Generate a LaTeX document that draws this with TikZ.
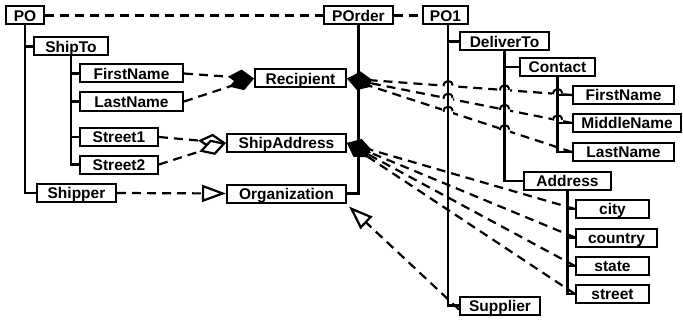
\documentclass[tikz,border=0pt]{standalone}
\usepackage{fontspec}
\setmainfont{Liberation Sans}
\usetikzlibrary{arrows.meta,calc}
\newcommand\erasehop[1]{\fill[white] ($(#1)+(-5.5,-3.2)$) rectangle ($(#1)+(5.5,3.2)$);}
\newcommand\drawhop[1]{\draw[line width=2pt] ($(#1)+(-4.5,0.3)$) .. controls +(0,-6.5) and +(0,-6.5) .. ($(#1)+(4.5,-0.3)$);}
\begin{document}
\begin{tikzpicture}[x=1pt,y=-1pt,
 box/.style={draw, line width=2pt, inner sep=0pt, minimum height=18pt, text height=11.3pt, text depth=0pt, font=\fontsize{15.5}{18}\selectfont\bfseries, anchor=center, fill=white},
 tree/.style={line width=2.2pt},
 dep/.style={line width=2.2pt, dash pattern=on 9pt off 6pt},
 comp/.style={dep, -{Diamond[length=26pt,width=16pt,fill=black,line join=miter]}},
 agg/.style={dep, -{Diamond[open,length=28pt,width=16pt,fill=white]}},
 gen/.style={dep, -{Triangle[open,length=24pt,width=17pt,fill=white]}}]
\useasboundingbox (0,0) rectangle (683,321);
% nodes
\node[box, minimum width=38pt] (PO) at (25,15.5) {PO};
\node[box, minimum width=69pt] (POrder) at (358.5,15.5) {POrder};
\node[box, minimum width=45pt] (PO1) at (445.5,15.5) {PO1};
\node[box, minimum width=74pt] (ShipTo) at (71,46.5) {ShipTo};
\node[box, minimum width=103pt] (FNL) at (131.5,73.5) {FirstName};
\node[box, minimum width=103pt] (LNL) at (131.5,101.5) {LastName};
\node[box, minimum width=91pt] (Recip) at (300.5,78.5) {Recipient};
\node[box, minimum width=78pt] (St1) at (119,137) {Street1};
\node[box, minimum width=78pt] (St2) at (119,164.5) {Street2};
\node[box, minimum width=119pt] (ShipAddr) at (286.5,143) {ShipAddress};
\node[box, minimum width=79pt] (Shipper) at (76.5,193) {Shipper};
\node[box, minimum width=119pt] (Org) at (286.5,193.5) {Organization};
\node[box, minimum width=89pt] (Deliver) at (504.5,41.5) {DeliverTo};
\node[box, minimum width=75pt] (Contact) at (557.5,67) {Contact};
\node[box, minimum width=101pt] (FNR) at (623.5,95) {FirstName};
\node[box, minimum width=108pt] (MNR) at (627,123) {MiddleName};
\node[box, minimum width=101pt] (LNR) at (623.5,152) {LastName};
\node[box, minimum width=87pt] (Addr) at (567.5,181) {Address};
\node[box, minimum width=73pt] (city) at (612.5,209) {city};
\node[box, minimum width=81pt] (country) at (616.5,237.5) {country};
\node[box, minimum width=73pt] (state) at (612.5,266) {state};
\node[box, minimum width=73pt] (street) at (612.5,294) {street};
\node[box, minimum width=80pt] (Supplier) at (500,305.5) {Supplier};
% vertical line helpers for hops
\coordinate (va1) at ([xshift=2.5pt]PO1.south);
\coordinate (va2) at ($(va1)+(0,280)$);
\coordinate (vb1) at (Deliver.south);
\coordinate (vb2) at ($(vb1)+(0,130)$);
\coordinate (vc1) at (Contact.south);
\coordinate (vc2) at ($(vc1)+(0,75)$);
% dashed relations
\draw[dep] (PO.east) -- (POrder.west);
\draw[dep] (POrder.east) -- (PO1.west);
\draw[comp] (FNL.east) -- (Recip.west);
\draw[comp] (LNL.east) -- (Recip.west);
\draw[agg] (St1.east) -- (ShipAddr.west);
\draw[agg] (St2.east) -- (ShipAddr.west);
\draw[gen] (Shipper.east) -- (Org.west);
\draw[gen] ([yshift=-4pt]Supplier.west) -- ([xshift=2pt,yshift=-3pt]Org.south east);
\draw[comp] (FNR.west) -- (Recip.east);
\draw[comp] (MNR.west) -- (Recip.east);
\draw[comp] (LNR.west) -- (Recip.east);
\draw[comp] (city.west) -- (ShipAddr.east);
\draw[comp] (country.west) -- (ShipAddr.east);
\draw[comp] (state.west) -- (ShipAddr.east);
\draw[comp] (street.west) -- (ShipAddr.east);
% crossing points
\coordinate (h1) at (intersection of FNR.west--Recip.east and va1--va2);
\coordinate (h2) at (intersection of FNR.west--Recip.east and vb1--vb2);
\coordinate (h3) at (intersection of FNR.west--Recip.east and vc1--vc2);
\coordinate (h4) at (intersection of MNR.west--Recip.east and va1--va2);
\coordinate (h5) at (intersection of MNR.west--Recip.east and vb1--vb2);
\coordinate (h6) at (intersection of MNR.west--Recip.east and vc1--vc2);
\coordinate (h7) at (intersection of LNR.west--Recip.east and va1--va2);
\coordinate (h8) at (intersection of LNR.west--Recip.east and vb1--vb2);
\erasehop{h1}\erasehop{h2}\erasehop{h3}\erasehop{h4}\erasehop{h5}\erasehop{h6}\erasehop{h7}\erasehop{h8}
% tree lines
\draw[tree] (PO.south) |- (Shipper.west);
\draw[tree] (PO.south) |- (ShipTo.west);
\draw[tree] (ShipTo.south) |- (St2.west);
\draw[tree] (ShipTo.south) |- (FNL.west);
\draw[tree] (ShipTo.south) |- (LNL.west);
\draw[tree] (ShipTo.south) |- (St1.west);
\draw[tree] (POrder.south) |- (Org.east);
\draw[tree] (va1) |- (Supplier.west);
\draw[tree] (va1) |- (Deliver.west);
\draw[tree] (Deliver.south) |- (Addr.west);
\draw[tree] (Deliver.south) |- (Contact.west);
\draw[tree] (Contact.south) |- (LNR.west);
\draw[tree] (Contact.south) |- (FNR.west);
\draw[tree] (Contact.south) |- (MNR.west);
\draw[tree] (Addr.south) |- (street.west);
\draw[tree] (Addr.south) |- (city.west);
\draw[tree] (Addr.south) |- (country.west);
\draw[tree] (Addr.south) |- (state.west);
% hops
\drawhop{h1}\drawhop{h2}\drawhop{h3}\drawhop{h4}\drawhop{h5}\drawhop{h6}\drawhop{h7}\drawhop{h8}
\end{tikzpicture}
\end{document}
